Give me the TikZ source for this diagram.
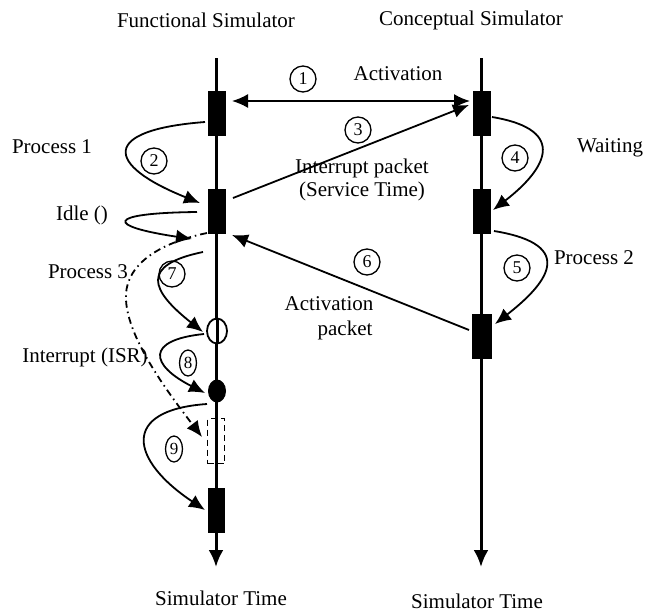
\documentclass[tikz,border=0pt]{standalone}
\usepackage{fontspec}
\setmainfont{Liberation Serif}
\usetikzlibrary{arrows.meta,shapes.geometric,calc}
\begin{document}
\begin{tikzpicture}[x=1pt,y=-1pt,
  lbl/.style={font=\fontsize{21}{23}\selectfont, inner sep=0pt},
  num/.style={draw, circle, line width=1.3pt, minimum size=26pt, inner sep=0pt, font=\fontsize{18}{18}\selectfont},
  numo/.style={draw, ellipse, line width=1.3pt, minimum width=17pt, minimum height=26pt, inner sep=0pt, font=\fontsize{17}{17}\selectfont},
  blk/.style={draw=none, fill=black, minimum width=18pt, minimum height=45pt, inner sep=0pt},
  tl/.style={line width=3pt, -{Latex[length=17pt,width=15pt]}},
  con/.style={line width=1.8pt, -{Latex[length=16pt,width=14pt]}},
  dcon/.style={line width=1.8pt, {Latex[length=16pt,width=14pt]}-{Latex[length=16pt,width=14pt]}},
]
\useasboundingbox (0,0) rectangle (659,614);
% timelines
\coordinate (ltop) at (216,58);
\coordinate (lbot) at (216,567);
\coordinate (rtop) at (481,58);
\coordinate (rbot) at (481,567);
\draw[tl] (ltop) -- (lbot);
\draw[tl] (rtop) -- (rbot);
% blocks
\node[blk] (f1) at (217,113) {};
\node[blk] (f2) at (217,211) {};
\node[draw, ellipse, line width=1.8pt, fill=white, minimum width=20pt, minimum height=25pt, inner sep=0pt] (fo) at (217,331) {};
\draw[line width=3pt] (fo.north) -- (fo.south);
\node[draw=none, ellipse, fill=black, minimum width=18pt, minimum height=23pt, inner sep=0pt] (ff) at (217,391) {};
\node[draw, line width=1.7pt, dash pattern=on 6pt off 4pt, minimum width=17pt, minimum height=45pt, inner sep=0pt] (fd) at (216,441) {};
\node[blk, minimum width=17pt] (f3) at (216,510) {};
\node[blk] (r1) at (482,113) {};
\node[blk] (r2) at (482,211) {};
\node[blk, minimum width=20pt] (r3) at (482,336) {};
% titles
\node[lbl] (t1) at (206,20) {Functional Simulator};
\node[lbl] (t2) at (471,20) {Conceptual Simulator};
\node[lbl] (b1) at (221,598) {Simulator Time};
\node[lbl] (b2) at (477,601) {Simulator Time};
% labels
\node[lbl] (lact) at (398,74) {Activation};
\node[lbl, align=center] (lint) at (362,180) {Interrupt packet\\(Service Time)};
\node[lbl] (lact2) at (329,304) {Activation};
\node[lbl] (lpack) at (345,330) {packet};
\node[lbl] (lp1) at (52,147) {Process 1};
\node[lbl] (lw) at (610,148) {Waiting};
\node[lbl] (lp2) at (594,258) {Process 2};
\node[lbl] (lidle) at (82,215) {Idle ()};
\node[lbl] (lp3) at (88,272) {Process 3};
\node[lbl] (lisr) at (85,357) {Interrupt (ISR)};
% numbered circles
\node[num] (n1) at (303,79) {1};
\node[num] (n2) at (154,161) {2};
\node[num] (n3) at (358,130) {3};
\node[num] (n4) at (515,158) {4};
\node[num] (n5) at (517,268) {5};
\node[num] (n6) at (367,262) {6};
\node[num] (n7) at (172,274) {7};
\node[numo] (n8) at (188,363) {8};
\node[numo] (n9) at (174,449) {9};
% straight connectors
\draw[dcon] ($(f1)+(15,-12)$) -- ($(r1)+(-12,-12)$);
\draw[con] ($(f2)+(16,-13)$) -- ($(r1)+(-13,-8)$);
\draw[con] ($(r3)+(-13,-6)$) -- ($(f2)+(15,24)$);
% curved connectors
\draw[con] ($(f1)+(-12,9)$) .. controls (100,130) and (105,165) .. ($(f2)+(-17,-8)$);
\draw[con] ($(f2)+(-20,1)$) .. controls (105,213) and (105,226) .. ($(f2)+(-25,28)$);
\draw[con] ($(f2)+(-14,41)$) .. controls (140,265) and (150,290) .. ($(fo)+(-14,1)$);
\draw[con] ($(fo)+(-13,3)$) .. controls (145,340) and (150,365) .. ($(ff)+(-12,2)$);
\draw[con] ($(ff)+(-10,13)$) .. controls (120,410) and (130,460) .. ($(f3)+(-11,0)$);
\draw[con] ($(r1)+(10,4)$) .. controls (570,130) and (545,170) .. ($(r2)+(11,-1)$);
\draw[con] ($(r2)+(12,20)$) .. controls (580,245) and (545,285) .. ($(r3)+(13,-12)$);
\coordinate (dd) at (126,300);
\draw[line width=1.8pt, dash pattern=on 7pt off 4pt on 1.5pt off 4pt, -{Latex[length=16pt,width=14pt]}]
  ($(f2)+(-10,22)$) .. controls (150,245) and (124,270) .. (dd) .. controls (128,340) and (170,395) .. ($(fd)+(-14,-4)$);
\end{tikzpicture}
\end{document}
